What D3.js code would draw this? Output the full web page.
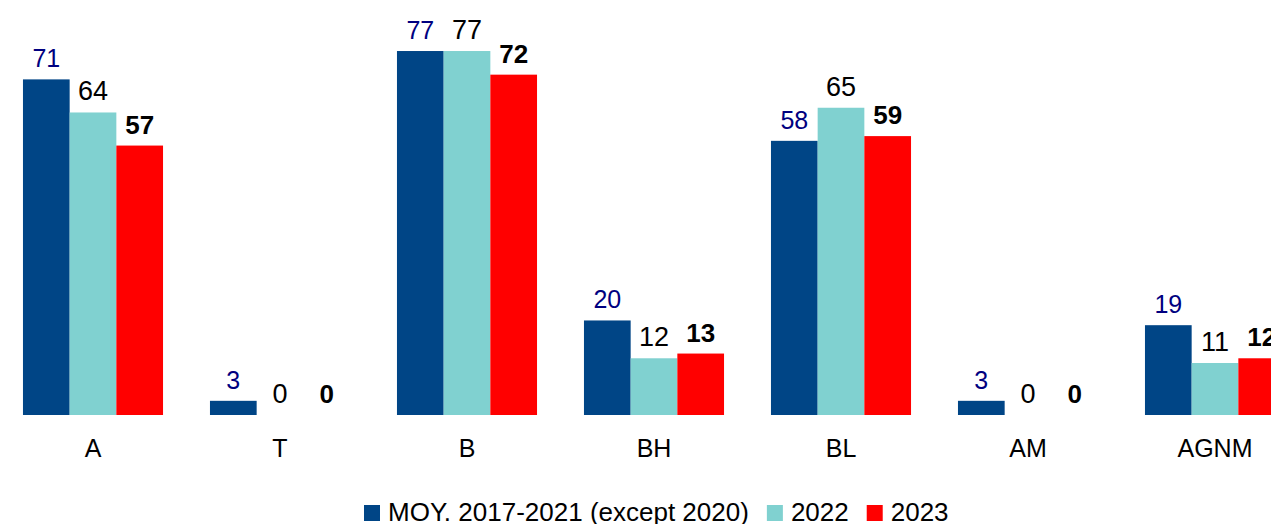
<!DOCTYPE html>
<html>
<head>
<meta charset="utf-8">
<script src="https://cdn.jsdelivr.net/npm/d3@7"></script>
<style>
  body { margin: 0; background: #fff; }
  svg { display: block; font-family: "Liberation Sans", Arial, sans-serif; }
</style>
</head>
<body>
<svg id="chart"></svg>
<script>
const categories = ["A", "T", "B", "BH", "BL", "AM", "AGNM"];
const seriesNames = ["MOY. 2017-2021 (except 2020)", "2022", "2023"];
const avgValues = [71, 3, 77, 20, 58, 3, 19];
const values2022 = [64, 0, 77, 12, 65, 0, 11];
const values2023 = [57, 0, 72, 13, 59, 0, 12];

const width = 1271, height = 524;
const baseline = 415;

const colors = ["#004586", "#80d1d0", "#ff0000"];
const labelStyles = [
    {fill: "#000080", size: 25, weight: "normal"},
    {fill: "#000000", size: 27, weight: "normal"},
    {fill: "#000000", size: 26, weight: "bold"}
];

const series = [avgValues, values2022, values2023];
const rows = [];
categories.forEach((c, i) => {
    series.forEach((s, k) => rows.push({cat: c, key: k, value: s[i]}));
});

const svg = d3.select("#chart").attr("width", width).attr("height", height);

const x = d3.scaleBand()
    .domain(categories)
    .range([-0.5, -0.5 + 187 * categories.length])
    .paddingInner(0.251)
    .paddingOuter(0.1255);

const x1 = d3.scaleBand()
    .domain(d3.range(series.length))
    .range([0, x.bandwidth()]);

const y = d3.scaleLinear()
    .domain([0, 80])
    .range([baseline, baseline - 80 * 4.727]);

const g = svg.append("g");

g.selectAll("rect")
    .data(rows)
    .join("rect")
    .attr("x", d => x(d.cat) + x1(d.key))
    .attr("y", d => y(d.value))
    .attr("width", x1.bandwidth())
    .attr("height", d => y(0) - y(d.value))
    .attr("fill", d => colors[d.key]);

g.selectAll("text.value")
    .data(rows)
    .join("text")
    .attr("class", "value")
    .attr("x", d => x(d.cat) + x1(d.key) + x1.bandwidth() / 2)
    .attr("y", d => y(d.value) - 12)
    .attr("text-anchor", "middle")
    .attr("fill", d => labelStyles[d.key].fill)
    .style("font-size", d => labelStyles[d.key].size + "px")
    .style("font-weight", d => labelStyles[d.key].weight)
    .text(d => d.value);

// category axis
const xAxis = svg.append("g")
    .attr("transform", `translate(0, ${baseline})`)
    .call(d3.axisBottom(x).tickSize(0).tickPadding(24));
xAxis.select(".domain").remove();
xAxis.selectAll("text")
    .attr("fill", "#000")
    .style("font-size", "25px")
    .style("font-family", "'Liberation Sans', Arial, sans-serif");

// legend
const legend = svg.append("g").attr("transform", "translate(364, 505)");
let lx = 0;
seriesNames.forEach((name, i) => {
    const item = legend.append("g").attr("transform", `translate(${lx}, 0)`);
    item.append("rect")
        .attr("width", 16)
        .attr("height", 16)
        .attr("fill", colors[i]);
    const t = item.append("text")
        .attr("x", 24)
        .attr("y", 15.5)
        .style("font-size", "26px")
        .attr("fill", "#000")
        .text(name);
    lx += 24 + t.node().getComputedTextLength() + 18;
});
</script>
</body>
</html>
